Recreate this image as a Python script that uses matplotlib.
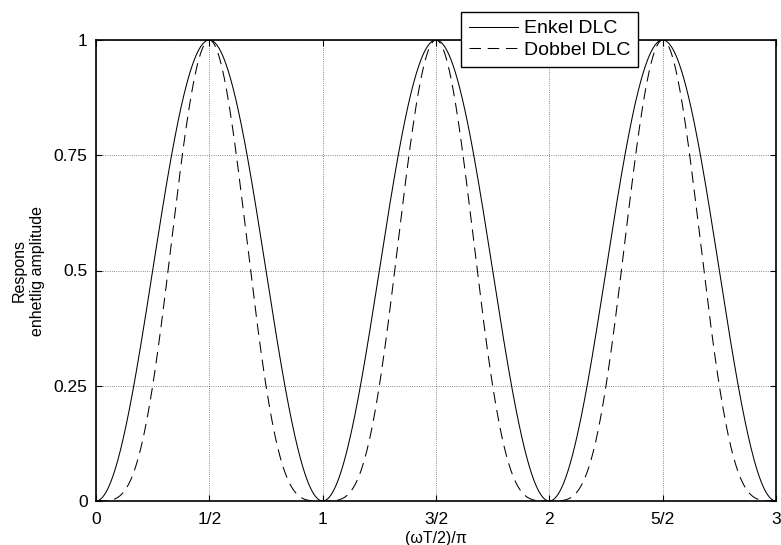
import numpy as np
import matplotlib
matplotlib.use("Agg")
import matplotlib.pyplot as plt

plt.rcParams["font.family"] = ["Liberation Sans", "DejaVu Sans"]

# normalised frequency (omega*T/2)/pi and canceller order (single / double DLC)
freq = np.linspace(0, 3, 1201)
orders = [1, 2]
labels = ["Enkel DLC", "Dobbel DLC"]
styles = ["-", "--"]
xticks = [0, 0.5, 1, 1.5, 2, 2.5, 3]
xticklabels = ["0", "1/2", "1", "3/2", "2", "5/2", "3"]
yticks = [0, 0.25, 0.5, 0.75, 1]
yticklabels = ["0", "0.25", "0.5", "0.75", "1"]

fig = plt.figure(figsize=(7.81, 5.45), dpi=100)
ax = fig.add_axes([96 / 781, 1 - 501 / 545, 680 / 781, 461 / 545])

lines = []
for n, lbl, ls in zip(orders, labels, styles):
    # |H|^2 of an n-stage delay line canceller, normalised to unit peak
    resp = np.sin(np.pi * freq) ** (2 * n)
    (ln,) = ax.plot(freq, resp, color="black", lw=0.75, ls=ls, label=lbl)
    if ls == "--":
        ln.set_dashes((11, 6.5))
    lines.append(ln)

ax.set_xlim(0, 3)
ax.set_ylim(0, 1)
ax.set_xticks(xticks)
ax.set_xticklabels(xticklabels)
ax.set_yticks(yticks)
ax.set_yticklabels(yticklabels)
ax.tick_params(direction="in", length=4, width=0.8, labelsize=12.5,
               top=True, right=True)
ax.tick_params(axis="x", pad=8)
ax.tick_params(axis="y", pad=6)
ax.grid(True, color="black", ls=":", lw=0.6, alpha=0.6)
for s in ax.spines.values():
    s.set_linewidth(1.2)

ax.set_xlabel("(ωT/2)/π", fontsize=11.5, labelpad=3)
ax.set_ylabel("Respons\nenhetlig amplitude", fontsize=11.5, labelpad=6,
              linespacing=1.3)

leg = fig.legend(handles=lines, loc="upper left",
                 bbox_to_anchor=(461 / 781, 1 - 12 / 545),
                 fontsize=14, frameon=True, fancybox=False,
                 edgecolor="black", framealpha=1, handlelength=2.55,
                 handletextpad=0.27, borderpad=0.4, labelspacing=0.2,
                 borderaxespad=0)
leg.get_frame().set_linewidth(1.0)

fig.savefig("out.png", dpi=100, facecolor="white")
